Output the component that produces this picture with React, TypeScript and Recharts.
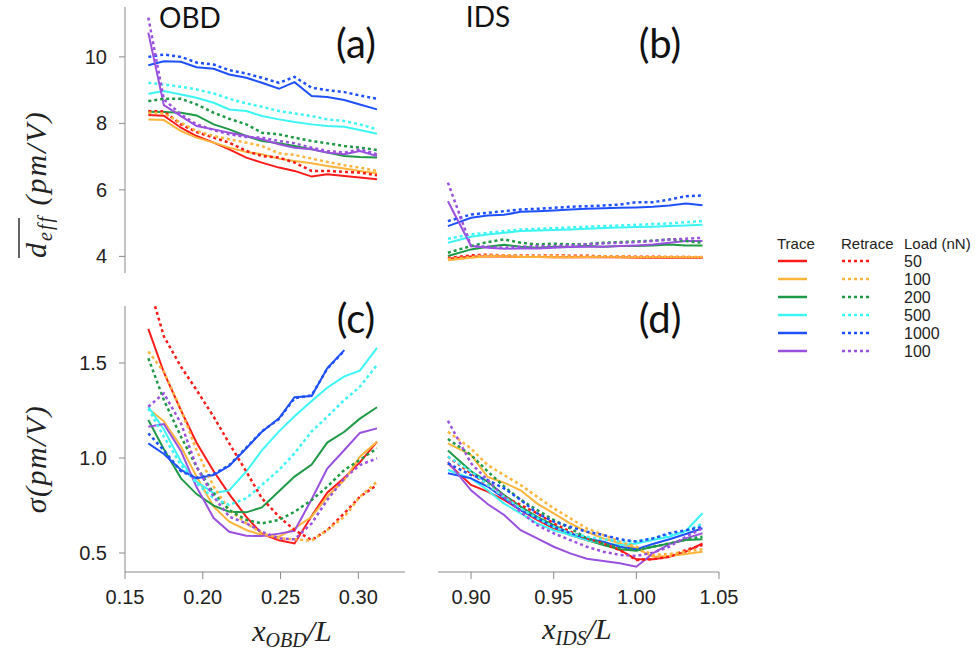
import React from 'react';
import { LineChart, Line, XAxis, YAxis } from 'recharts';

// load levels in legend order (last one is the second 100 nN run)
const LOADS = ['50', '100', '200', '500', '1000', '100'];
const COLORS = ['#ff1a1a', '#ffb43c', '#1e9a46', '#3cf5f5', '#1f50ff', '#9b51e0'];

// position grids along the cantilever
const obdX = [0.165, 0.175, 0.186, 0.196, 0.207, 0.217, 0.228, 0.238, 0.249, 0.259, 0.27, 0.28, 0.291, 0.301, 0.312];
const idsX = [0.886, 0.9, 0.91, 0.92, 0.93, 0.94, 0.95, 0.96, 0.97, 0.98, 0.99, 1.0, 1.01, 1.02, 1.03, 1.04];

const meanTicks = [4, 6, 8, 10];
const sigmaTicks = [0.5, 1.0, 1.5];
const obdTicks = [0.15, 0.2, 0.25, 0.3];
const idsTicks = [0.9, 0.95, 1.0, 1.05];

// (a) mean d_eff, OBD
const aT50 = [8.25, 8.23, 7.87, 7.62, 7.42, 7.22, 6.97, 6.82, 6.67, 6.57, 6.4, 6.47, 6.42, 6.37, 6.32];
const aR50 = [8.37, 8.36, 7.97, 7.74, 7.57, 7.42, 7.17, 7.02, 6.97, 6.82, 6.57, 6.57, 6.54, 6.52, 6.44];
const aT100 = [8.12, 8.1, 7.77, 7.57, 7.42, 7.27, 7.14, 7.07, 6.94, 6.87, 6.8, 6.72, 6.64, 6.57, 6.5];
const aR100 = [8.32, 8.3, 8.02, 7.77, 7.62, 7.52, 7.42, 7.32, 7.1, 7.05, 6.94, 6.84, 6.74, 6.67, 6.57];
const aT200 = [8.35, 8.34, 8.32, 8.24, 7.97, 7.82, 7.62, 7.47, 7.4, 7.32, 7.22, 7.12, 7.02, 6.99, 6.97];
const aR200 = [8.67, 8.74, 8.74, 8.57, 8.32, 8.14, 7.97, 7.72, 7.67, 7.57, 7.47, 7.4, 7.32, 7.27, 7.2];
const aT500 = [8.89, 8.97, 8.87, 8.77, 8.62, 8.42, 8.37, 8.22, 8.12, 8.04, 7.97, 7.92, 7.9, 7.8, 7.69];
const aR500 = [9.22, 9.17, 9.1, 9.02, 8.9, 8.74, 8.6, 8.5, 8.37, 8.3, 8.22, 8.12, 8.07, 7.97, 7.82];
const aT1000 = [9.75, 9.87, 9.85, 9.69, 9.64, 9.47, 9.37, 9.22, 9.04, 9.24, 8.82, 8.79, 8.7, 8.57, 8.42];
const aR1000 = [10.0, 10.07, 10.0, 9.83, 9.77, 9.6, 9.5, 9.37, 9.22, 9.4, 9.07, 9.0, 8.94, 8.84, 8.74];
const aT100b = [10.73, 8.55, 8.22, 7.92, 7.82, 7.72, 7.62, 7.52, 7.37, 7.27, 7.22, 7.12, 7.07, 7.17, 7.02];
const aR100b = [11.18, 8.72, 8.27, 7.97, 7.8, 7.67, 7.59, 7.57, 7.47, 7.4, 7.27, 7.17, 7.12, 7.22, 7.07];

// (b) mean d_eff, IDS
const bT50 = [3.93, 4.0, 4.0, 4.0, 3.98, 3.98, 3.97, 3.97, 3.98, 3.97, 3.97, 3.96, 3.96, 3.96, 3.96, 3.96];
const bR50 = [3.95, 4.03, 4.05, 4.03, 4.03, 4.02, 4.03, 4.02, 4.02, 4.0, 4.0, 3.99, 3.99, 3.98, 3.98, 3.97];
const bT100 = [3.88, 3.96, 4.0, 4.0, 3.98, 3.98, 3.97, 3.97, 3.98, 3.98, 3.97, 3.97, 3.98, 3.98, 3.97, 3.97];
const bR100 = [3.92, 3.98, 4.03, 4.03, 4.02, 4.0, 4.02, 4.0, 4.0, 4.0, 4.0, 3.98, 3.98, 3.98, 3.98, 3.98];
const bT200 = [4.01, 4.21, 4.29, 4.35, 4.29, 4.26, 4.29, 4.29, 4.31, 4.29, 4.31, 4.31, 4.33, 4.36, 4.33, 4.33];
const bR200 = [4.11, 4.31, 4.43, 4.51, 4.41, 4.36, 4.38, 4.36, 4.37, 4.41, 4.43, 4.45, 4.47, 4.51, 4.46, 4.41];
const bT500 = [4.41, 4.59, 4.66, 4.71, 4.76, 4.78, 4.79, 4.81, 4.83, 4.85, 4.87, 4.88, 4.89, 4.91, 4.93, 4.95];
const bR500 = [4.53, 4.66, 4.71, 4.76, 4.81, 4.83, 4.85, 4.87, 4.89, 4.91, 4.93, 4.95, 4.97, 4.99, 5.03, 5.06];
const bT1000 = [4.91, 5.16, 5.23, 5.25, 5.34, 5.36, 5.38, 5.41, 5.43, 5.45, 5.46, 5.47, 5.49, 5.53, 5.59, 5.54];
const bR1000 = [5.06, 5.26, 5.31, 5.36, 5.41, 5.43, 5.46, 5.49, 5.51, 5.53, 5.56, 5.63, 5.63, 5.71, 5.81, 5.83];
const bT100b = [5.66, 4.31, 4.26, 4.23, 4.24, 4.24, 4.26, 4.28, 4.29, 4.29, 4.31, 4.33, 4.36, 4.41, 4.46, 4.46];
const bR100b = [6.22, 4.31, 4.29, 4.26, 4.29, 4.31, 4.31, 4.33, 4.36, 4.39, 4.41, 4.43, 4.46, 4.51, 4.53, 4.56];

// (c) sigma, OBD
const cT50 = [1.68, 1.45, 1.25, 1.08, 0.93, 0.81, 0.69, 0.6, 0.567, 0.55, 0.695, 0.817, 0.896, 0.977, 1.086];
const cR50 = [1.92, 1.64, 1.48, 1.358, 1.217, 1.077, 0.928, 0.788, 0.691, 0.621, 0.568, 0.621, 0.709, 0.796, 0.858];
const cT100 = [1.26, 1.193, 1.06, 0.902, 0.744, 0.665, 0.621, 0.595, 0.586, 0.63, 0.691, 0.796, 0.884, 1.007, 1.086];
const cR100 = [1.56, 1.454, 1.253, 1.042, 0.849, 0.726, 0.656, 0.604, 0.577, 0.572, 0.565, 0.621, 0.691, 0.796, 0.875];
const cT200 = [1.2, 1.046, 0.893, 0.81, 0.749, 0.717, 0.714, 0.74, 0.825, 0.902, 0.965, 1.081, 1.138, 1.207, 1.267];
const cR200 = [1.525, 1.305, 1.112, 0.954, 0.814, 0.726, 0.674, 0.656, 0.674, 0.717, 0.779, 0.849, 0.937, 0.99, 1.051];
const cT500 = [1.27, 1.15, 0.98, 0.875, 0.815, 0.83, 0.93, 1.04, 1.14, 1.22, 1.3, 1.37, 1.43, 1.46, 1.58];
const cR500 = [1.26, 1.112, 0.963, 0.867, 0.788, 0.753, 0.788, 0.858, 0.937, 1.025, 1.14, 1.217, 1.305, 1.375, 1.49];
const cT1000 = [1.077, 1.021, 0.937, 0.893, 0.91, 0.958, 1.051, 1.138, 1.209, 1.32, 1.326, 1.472, 1.568, null, null];
const cR1000 = [1.13, 1.04, 0.93, 0.896, 0.915, 0.962, 1.055, 1.14, 1.205, 1.315, 1.33, 1.47, 1.565, null, null];
const cT100b = [1.165, 1.179, 1.036, 0.847, 0.684, 0.612, 0.591, 0.589, 0.602, 0.617, 0.783, 0.944, 1.042, 1.132, 1.156];
const cR100b = [1.27, 1.34, 1.182, 0.954, 0.796, 0.691, 0.656, 0.612, 0.577, 0.572, 0.656, 0.779, 0.893, 0.963, 0.998];

// (d) sigma, IDS
const dT50 = [0.972, 0.858, 0.823, 0.78, 0.726, 0.674, 0.63, 0.595, 0.568, 0.55, 0.516, 0.467, 0.467, 0.48, 0.507, 0.55];
const dR50 = [1.007, 0.92, 0.858, 0.796, 0.753, 0.709, 0.656, 0.612, 0.577, 0.55, 0.516, 0.463, 0.467, 0.48, 0.516, 0.542];
const dT100 = [1.077, 1.016, 0.9, 0.87, 0.83, 0.76, 0.709, 0.656, 0.612, 0.577, 0.55, 0.525, 0.48, 0.484, 0.495, 0.507];
const dR100 = [1.138, 1.05, 0.963, 0.91, 0.858, 0.796, 0.735, 0.683, 0.63, 0.595, 0.56, 0.533, 0.49, 0.495, 0.507, 0.52];
const dT200 = [1.04, 0.93, 0.875, 0.805, 0.744, 0.69, 0.647, 0.604, 0.568, 0.542, 0.52, 0.512, 0.533, 0.55, 0.568, 0.572];
const dR200 = [1.1, 1.016, 0.93, 0.85, 0.78, 0.726, 0.674, 0.63, 0.577, 0.55, 0.525, 0.516, 0.533, 0.55, 0.572, 0.586];
const dT500 = [0.937, 0.893, 0.83, 0.76, 0.709, 0.656, 0.62, 0.595, 0.568, 0.55, 0.542, 0.55, 0.568, 0.586, 0.617, 0.709];
const dR500 = [1.007, 0.93, 0.858, 0.796, 0.735, 0.683, 0.638, 0.604, 0.586, 0.572, 0.56, 0.56, 0.577, 0.595, 0.612, 0.656];
const dT1000 = [0.92, 0.893, 0.85, 0.788, 0.726, 0.683, 0.638, 0.604, 0.577, 0.56, 0.533, 0.52, 0.547, 0.572, 0.6, 0.63];
const dR1000 = [0.972, 0.91, 0.884, 0.84, 0.78, 0.709, 0.665, 0.638, 0.612, 0.595, 0.572, 0.56, 0.577, 0.604, 0.62, 0.638];
const dT100b = [0.98, 0.83, 0.758, 0.7, 0.62, 0.577, 0.533, 0.498, 0.47, 0.458, 0.446, 0.428, 0.498, 0.547, 0.577, 0.604];
const dR100b = [1.196, 0.972, 0.884, 0.796, 0.717, 0.647, 0.604, 0.568, 0.533, 0.507, 0.49, 0.484, 0.502, 0.533, 0.586, 0.63];

type Row = Record<string, number | null>;

const buildRows = (xs: number[], trace: (number | null)[][], retrace: (number | null)[][]): Row[] =>
  xs.map((x, i) => {
    const row: Row = { x };
    trace.forEach((s, k) => (row[`t${k}`] = s[i] ?? null));
    retrace.forEach((s, k) => (row[`r${k}`] = s[i] ?? null));
    return row;
  });

const rowsA = buildRows(obdX, [aT50, aT100, aT200, aT500, aT1000, aT100b], [aR50, aR100, aR200, aR500, aR1000, aR100b]);
const rowsB = buildRows(idsX, [bT50, bT100, bT200, bT500, bT1000, bT100b], [bR50, bR100, bR200, bR500, bR1000, bR100b]);
const rowsC = buildRows(obdX, [cT50, cT100, cT200, cT500, cT1000, cT100b], [cR50, cR100, cR200, cR500, cR1000, cR100b]);
const rowsD = buildRows(idsX, [dT50, dT100, dT200, dT500, dT1000, dT100b], [dR50, dR100, dR200, dR500, dR1000, dR100b]);

const AXIS_GREY = '#8a8a8a';
const TEXT = '#222';
const tickStyle = { fontSize: 20, fill: TEXT, fontFamily: 'Liberation Sans, Arial, sans-serif' };
const DASH = '3 3';

type PanelProps = {
  left: number;
  top: number;
  width: number;
  height: number;
  margin: { top: number; right: number; bottom: number; left: number };
  rows: Row[];
  xDomain: [number, number];
  yDomain: [number, number];
  xTicks?: number[];
  yTicks?: number[];
  xDigits?: number;
  yDigits?: number;
};

function Panel({ left, top, width, height, margin, rows, xDomain, yDomain, xTicks, yTicks, xDigits = 2, yDigits = 0 }: PanelProps) {
  return (
    <div style={{ position: 'absolute', left, top }}>
      <LineChart width={width} height={height} data={rows} margin={margin}>
        {xTicks ? (
          <XAxis
            type="number"
            dataKey="x"
            domain={xDomain}
            ticks={xTicks}
            interval={0}
            allowDataOverflow
            height={40}
            tickSize={7}
            tickMargin={11}
            axisLine={{ stroke: AXIS_GREY }}
            tickLine={{ stroke: AXIS_GREY }}
            tick={tickStyle}
            tickFormatter={(v: number) => v.toFixed(xDigits)}
          />
        ) : (
          <XAxis type="number" dataKey="x" domain={xDomain} allowDataOverflow hide />
        )}
        {yTicks ? (
          <YAxis
            type="number"
            domain={yDomain}
            ticks={yTicks}
            interval={0}
            allowDataOverflow
            width={125}
            tickSize={6}
            tickMargin={12}
            axisLine={{ stroke: AXIS_GREY }}
            tickLine={{ stroke: AXIS_GREY }}
            tick={tickStyle}
            tickFormatter={(v: number) => v.toFixed(yDigits)}
          />
        ) : (
          <YAxis type="number" domain={yDomain} allowDataOverflow hide />
        )}
        {LOADS.map((_, k) => (
          <Line
            key={`t${k}`}
            type="linear"
            dataKey={`t${k}`}
            stroke={COLORS[k]}
            strokeWidth={2}
            dot={false}
            isAnimationActive={false}
          />
        ))}
        {LOADS.map((_, k) => (
          <Line
            key={`r${k}`}
            type="linear"
            dataKey={`r${k}`}
            stroke={COLORS[k]}
            strokeWidth={2.5}
            strokeDasharray={DASH}
            dot={false}
            isAnimationActive={false}
          />
        ))}
      </LineChart>
    </div>
  );
}

const mathFont = { fontFamily: 'Liberation Serif, Times New Roman, serif', fontStyle: 'italic' as const, fill: TEXT };
const labelFont = { fontFamily: 'Lato, Open Sans, sans-serif', fill: '#111' };
const legendFont = { fontFamily: 'Liberation Sans, Arial, sans-serif', fill: TEXT };
const legendRows = [261, 279, 297, 315, 333, 351];

function Annotations() {
  return (
    <svg width={978} height={651} style={{ position: 'absolute', left: 0, top: 0, pointerEvents: 'none' }}>
      {/* column headers */}
      <text x={190} y={28} textAnchor="middle" fontSize={28} {...labelFont}>OBD</text>
      <text x={488} y={27} textAnchor="middle" fontSize={28} {...labelFont}>IDS</text>

      {/* panel tags */}
      <text x={356} y={58} textAnchor="middle" fontSize={40} {...labelFont}>(a)</text>
      <text x={660} y={58} textAnchor="middle" fontSize={40} {...labelFont}>(b)</text>
      <text x={356} y={333} textAnchor="middle" fontSize={40} {...labelFont}>(c)</text>
      <text x={660} y={333} textAnchor="middle" fontSize={40} {...labelFont}>(d)</text>

      {/* y titles */}
      <g transform="translate(46,258) rotate(-90)">
        <text x={0} y={0} fontSize={30} letterSpacing={2} {...mathFont}>
          d<tspan fontSize={20} dy={6}>eff</tspan>
          <tspan dy={-6}> (pm/V)</tspan>
        </text>
        <line x1={0} x2={40} y1={-27} y2={-27} stroke={TEXT} strokeWidth={1.4} />
      </g>
      <g transform="translate(46,459) rotate(-90)">
        <text x={0} y={0} textAnchor="middle" fontSize={30} letterSpacing={1.5} {...mathFont}>σ(pm/V)</text>
      </g>

      {/* x titles */}
      <text x={292} y={641} textAnchor="middle" fontSize={30} {...mathFont}>
        x<tspan fontSize={20} dy={6}>OBD</tspan>
        <tspan dy={-6}>/L</tspan>
      </text>
      <text x={577} y={639} textAnchor="middle" fontSize={30} {...mathFont}>
        x<tspan fontSize={20} dy={6}>IDS</tspan>
        <tspan dy={-6}>/L</tspan>
      </text>

      {/* legend */}
      <text x={777} y={243} dominantBaseline="central" fontSize={15} {...legendFont}>Trace</text>
      <text x={841} y={243} dominantBaseline="central" fontSize={15} {...legendFont}>Retrace</text>
      <text x={904} y={243} dominantBaseline="central" fontSize={15} {...legendFont}>Load (nN)</text>
      {LOADS.map((load, k) => (
        <g key={k}>
          <line x1={778} x2={807} y1={legendRows[k]} y2={legendRows[k]} stroke={COLORS[k]} strokeWidth={2.5} />
          <line x1={842} x2={871} y1={legendRows[k]} y2={legendRows[k]} stroke={COLORS[k]} strokeWidth={2.5} strokeDasharray={DASH} />
          <text x={904} y={legendRows[k]} dominantBaseline="central" fontSize={16} {...legendFont}>{load}</text>
        </g>
      ))}
    </svg>
  );
}

export default function App() {
  return (
    <div style={{ position: 'absolute', left: 0, top: 0, width: 978, height: 651, background: '#fff' }}>
      <Panel left={0} top={0} width={410} height={273} margin={{ top: 7, right: 5, bottom: 0, left: 0 }}
        rows={rowsA} xDomain={[0.15, 0.33]} yDomain={[3.5, 11.5]} yTicks={meanTicks} />
      <Panel left={420} top={0} width={340} height={273} margin={{ top: 7, right: 41, bottom: 0, left: 18 }}
        rows={rowsB} xDomain={[0.88, 1.05]} yDomain={[3.5, 11.5]} />
      <Panel left={0} top={290} width={410} height={361} margin={{ top: 16, right: 5, bottom: 39, left: 0 }}
        rows={rowsC} xDomain={[0.15, 0.33]} yDomain={[0.4, 1.8]} xTicks={obdTicks} yTicks={sigmaTicks} yDigits={1} />
      <Panel left={420} top={290} width={340} height={361} margin={{ top: 16, right: 41, bottom: 39, left: 18 }}
        rows={rowsD} xDomain={[0.88, 1.05]} yDomain={[0.4, 1.8]} xTicks={idsTicks} />
      <Annotations />
    </div>
  );
}
